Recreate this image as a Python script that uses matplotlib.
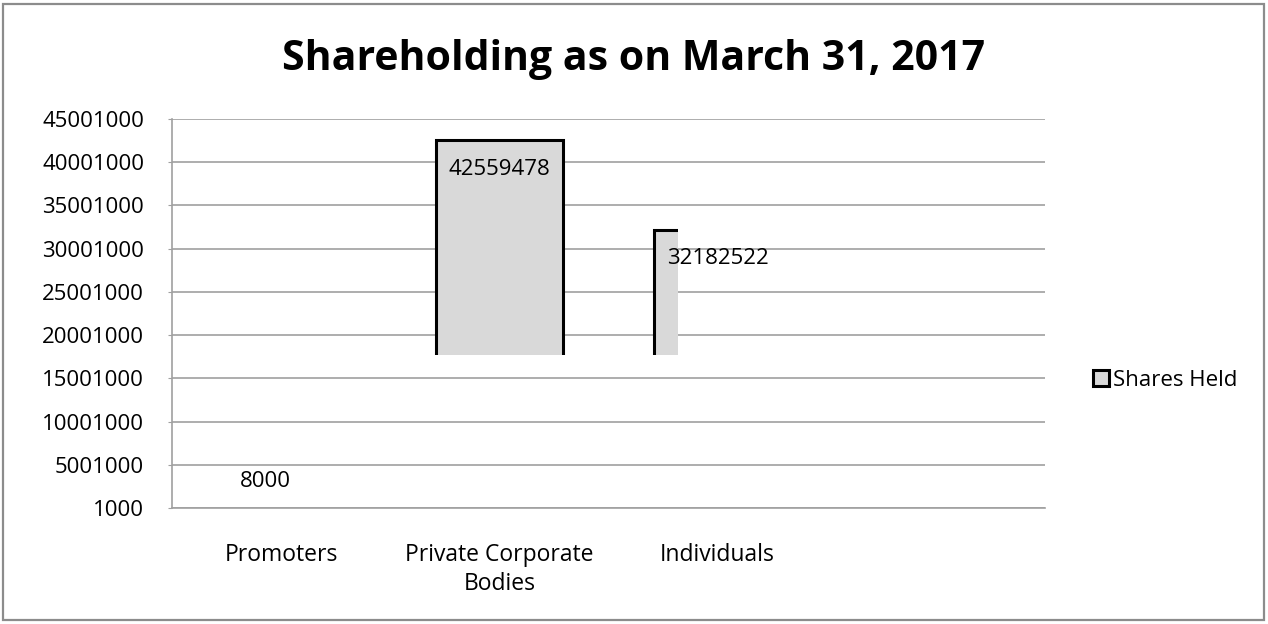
import numpy as np
import matplotlib
matplotlib.use("Agg")
import matplotlib.pyplot as plt
from matplotlib.patches import Rectangle

categories = ["Promoters", "Private Corporate\nBodies", "Individuals", ""]
shares_held = [8000, 42559478, 32182522, None]
title = "Shareholding as on March 31, 2017"
series_name = "Shares Held"

y_min, y_max, y_step = 1000, 45001000, 5000000
# the original render shows the bars cut off below ~17.7M and the
# "Individuals" bar cut off on its right side; reproduce that clipping
visible_floor = 17700000
individuals_clip_right = 1.818

plt.rcParams["font.family"] = ["Open Sans", "DejaVu Sans"]
grey = "#a0a0a0"
fill = "#d9d9d9"
fs = 16

fig = plt.figure(figsize=(12.68, 6.24), dpi=100)
ax = fig.add_axes([172 / 1268, (624 - 508) / 624, (1045 - 172) / 1268, (508 - 119) / 624])

x = np.arange(len(categories))
vals = [v for v in shares_held if v is not None]
bars = ax.bar(x[:len(vals)], np.array(vals) - y_min, bottom=y_min, width=0.585,
              color=fill, edgecolor="black", linewidth=2.2, zorder=3)

for i, b in enumerate(bars):
    right = individuals_clip_right if i == 2 else x[-1] + 0.5
    clip = Rectangle((-0.5, visible_floor), right + 0.5, y_max - visible_floor,
                     transform=ax.transData, visible=False)
    ax.add_patch(clip)
    b.set_clip_path(clip)

# data labels
offsets = [(-11, 19), (0, -21), (0, -21)]
for i, v in enumerate(vals):
    ax.annotate(str(v), (x[i], v), xytext=offsets[i], textcoords="offset points",
                ha="center", va="center", fontsize=fs, zorder=5)

ax.set_xlim(-0.5, len(categories) - 0.5)
ax.set_ylim(y_min, y_max)
ax.set_yticks(np.arange(y_min, y_max + 1, y_step))
ax.set_yticklabels([str(t) for t in np.arange(y_min, y_max + 1, y_step)])
ax.set_xticks(x)
ax.set_xticklabels(categories, fontsize=16.5, linespacing=1.3)
ax.tick_params(axis="x", length=0, pad=25)
ax.tick_params(axis="y", length=3, color=grey, pad=17, labelsize=fs)

ax.grid(axis="y", color=grey, linewidth=1.2, zorder=0)
ax.set_axisbelow(True)
for s in ["top", "right"]:
    ax.spines[s].set_visible(False)
for s in ["left", "bottom"]:
    ax.spines[s].set_color(grey)
    ax.spines[s].set_linewidth(1.2)

fig.text(0.5, (624 - 70) / 624, title, ha="center", va="baseline",
         fontsize=29.5, fontweight="bold")

handle = Rectangle((0, 0), 1, 1, facecolor=fill, edgecolor="black", linewidth=2.2)
fig.legend([handle], [series_name], loc="center left",
           bbox_to_anchor=(1093 / 1268, (624 - 380) / 624), frameon=False,
           fontsize=fs, handlelength=0.7, handleheight=0.7, handletextpad=0.2,
           borderpad=0, borderaxespad=0)

# outer chart border
fig.patches.append(Rectangle((3 / 1268, 4 / 624), 1261 / 1268, 616 / 624,
                             transform=fig.transFigure, fill=False,
                             edgecolor="#8c8c8c", linewidth=1.6))

fig.savefig("out.png", dpi=100)
